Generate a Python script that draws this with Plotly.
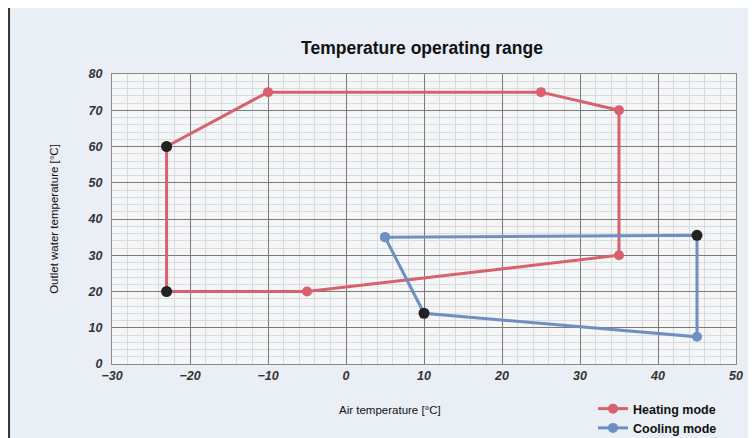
import plotly.graph_objects as go

# Heating mode envelope (air temp, water temp)
heat_x = [-23, -10, 25, 35, 35, -5, -23, -23]
heat_y = [60, 75, 75, 70, 30, 20, 20, 60]
# Cooling mode envelope
cool_x = [5, 45, 45, 10, 5]
cool_y = [35, 35.5, 7.5, 14, 35]
# Highlighted (black) points
black_x = [-23, -23, 45, 10]
black_y = [60, 20, 35.5, 14]

RED = "#d9606c"
BLUE = "#6d8fc4"

W, H = 748, 452
L, T, PB = 104, 66, 356          # plot left / top / bottom (figure px)
PW, PH = 728 - L, PB - T

fig = go.Figure()
fig.add_trace(go.Scatter(x=heat_x, y=heat_y, mode="lines+markers", name="<b>Heating mode</b>",
                         line=dict(color=RED, width=3), marker=dict(color=RED, size=10)))
fig.add_trace(go.Scatter(x=cool_x, y=cool_y, mode="lines+markers", name="<b>Cooling mode</b>",
                         line=dict(color=BLUE, width=3), marker=dict(color=BLUE, size=10)))
fig.add_trace(go.Scatter(x=black_x, y=black_y, mode="markers", showlegend=False,
                         marker=dict(color="#222222", size=11)))

fig.update_layout(
    width=W, height=H,
    margin=dict(l=L, r=W - 728, t=T, b=H - PB),
    paper_bgcolor="#e9eff5",
    plot_bgcolor="#f5f6f7",
    title=dict(text="<b>Temperature operating range</b>", x=414 / W, xanchor="center",
               y=1 - 40 / H, yanchor="middle",
               font=dict(family="Arial, Liberation Sans", size=17.5, color="#111")),
    font=dict(family="Arial, Liberation Sans", color="#222"),
    xaxis=dict(range=[-30, 50], dtick=10, showgrid=True, gridcolor="#7a7a7a", gridwidth=1,
               zeroline=False, showline=True, linecolor="#888", mirror=True,
               minor=dict(dtick=2, showgrid=True, gridcolor="#d9dadc", gridwidth=1),
               tickfont=dict(size=12.5, style="italic", weight="bold", color="#333")),
    yaxis=dict(range=[0, 80], dtick=10, showgrid=True, gridcolor="#7a7a7a", gridwidth=1,
               zeroline=False, showline=True, linecolor="#888", mirror=True,
               minor=dict(dtick=2, showgrid=True, gridcolor="#d9dadc", gridwidth=1),
               tickfont=dict(size=12.5, style="italic", weight="bold", color="#333"),
               ticklabelstandoff=6,
               title=dict(text="Outlet water temperature [°C]", font=dict(size=11.5, color="#111"), standoff=26)),
    legend=dict(x=(585 - L) / PW, xanchor="left", y=-(386 - PB) / PH, yanchor="top",
                bgcolor="rgba(0,0,0,0)", font=dict(size=12.5, color="#111"), itemwidth=30),
)
fig.add_annotation(text="Air temperature [°C]", xref="paper", yref="paper",
                   x=(382 - L) / PW, y=-(402 - PB) / PH, xanchor="center", yanchor="middle",
                   showarrow=False, font=dict(size=11.5, color="#111"))
fig.add_shape(type="line", xref="paper", yref="paper", x0=-0.165, x1=-0.165, y0=-0.4, y1=1.3,
              line=dict(color="#333", width=2))

fig.write_html("out.html")
